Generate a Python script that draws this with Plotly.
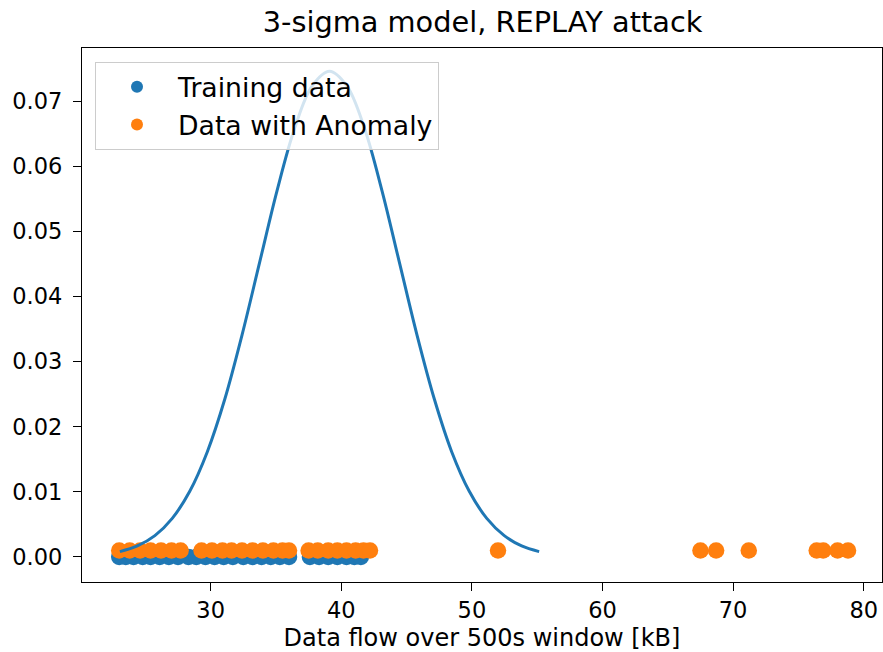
import plotly.graph_objects as go

# Gaussian model curve
curve_x = [23.05, 24.39, 25.73, 27.06, 28.40, 29.74, 31.08, 32.41, 33.75, 35.09, 36.43, 37.76,
           39.10, 40.44, 41.78, 43.11, 44.45, 45.79, 47.13, 48.46, 49.80, 51.14, 52.48, 53.81, 55.15]
curve_y = [0.00083, 0.00170, 0.00328, 0.00593, 0.01009, 0.01613, 0.02421, 0.03414, 0.04523,
           0.05629, 0.06581, 0.07228, 0.07457, 0.07228, 0.06581, 0.05629, 0.04523, 0.03414,
           0.02421, 0.01613, 0.01009, 0.00593, 0.00328, 0.00170, 0.00083]

# Training data (plotted at y = 0)
training_x = [23.0, 23.5, 24.1, 24.8, 25.4, 26.1, 26.8, 27.5, 28.3, 28.9, 29.6, 30.3, 31.0, 31.7,
              32.5, 33.2, 33.9, 34.6, 35.3, 36.0, 37.6, 38.3, 39.0, 39.7, 40.4, 41.0, 41.5]
training_y = [0.0] * len(training_x)

# Data with anomaly (plotted at y = 0.001)
anomaly_x = [23.0, 23.8, 24.6, 25.4, 26.2, 27.0, 27.7,
             29.3, 30.1, 30.9, 31.6, 32.4, 33.2, 34.0, 34.8, 35.5, 36.0,
             37.5, 38.2, 39.0, 39.7, 40.4, 41.1, 41.7, 42.2,
             52.0, 67.5, 68.7, 71.2, 76.4, 76.9, 78.0, 78.8]
anomaly_y = [0.001] * len(anomaly_x)

x_ticks = [30, 40, 50, 60, 70, 80]
y_ticks = [0.00, 0.01, 0.02, 0.03, 0.04, 0.05, 0.06, 0.07]

BLUE = "#1f77b4"
ORANGE = "#ff7f0e"
FONT = "DejaVu Sans"

fig = go.Figure()
fig.add_trace(go.Scatter(x=training_x, y=training_y, mode="markers", name="Training data",
                         marker=dict(color=BLUE, size=16.5, line=dict(width=0))))
fig.add_trace(go.Scatter(x=anomaly_x, y=anomaly_y, mode="markers", name="Data with Anomaly",
                         marker=dict(color=ORANGE, size=16.5, line=dict(width=0))))
fig.add_trace(go.Scatter(x=curve_x, y=curve_y, mode="lines", showlegend=False,
                         line=dict(color=BLUE, width=3, shape="spline")))

axis_common = dict(showgrid=False, zeroline=False, showline=True, mirror=True,
                   linecolor="black", linewidth=1.3, ticks="outside", ticklen=8,
                   tickwidth=1.3, tickcolor="black", automargin=False,
                   tickfont=dict(family=FONT, size=22.5, color="black"))

fig.update_layout(
    width=883, height=652,
    margin=dict(l=82, r=1, t=48, b=70, autoexpand=False),
    paper_bgcolor="white", plot_bgcolor="white",
    font=dict(family=FONT, color="black"),
    title=dict(text="3-sigma model, REPLAY attack", x=0.5465, xanchor="center",
               y=1 - 22 / 652, yref="container", yanchor="middle", automargin=False,
               font=dict(family=FONT, size=28.8, color="black")),
    xaxis=dict(range=[20.15, 81.4], tickvals=x_ticks, ticktext=[str(v) for v in x_ticks],
               title=dict(text="Data flow over 500s window [kB]",
                          font=dict(family=FONT, size=24, color="black"), standoff=10),
               **axis_common),
    yaxis=dict(range=[-0.00384, 0.07814], tickvals=y_ticks,
               ticktext=[f"{v:.2f}" for v in y_ticks], ticklabelstandoff=6, **axis_common),
    legend=dict(x=0.01625, y=0.9738, xanchor="left", yanchor="top",
                bgcolor="rgba(255,255,255,0.8)", bordercolor="#cccccc", borderwidth=1,
                font=dict(family=FONT, size=26.7, color="black"), itemsizing="constant",
                itemwidth=72),
)

fig.write_html("out.html", config={"displayModeBar": False},
               post_script="document.body.style.margin='0';")
